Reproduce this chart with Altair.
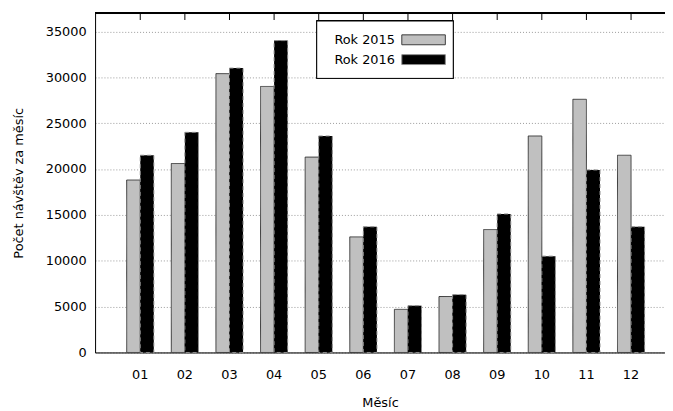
import altair as alt
import pandas as pd

months = ["01", "02", "03", "04", "05", "06", "07", "08", "09", "10", "11", "12"]
rok2015 = [18800, 20600, 30400, 29000, 21300, 12600, 4700, 6100, 13400, 23600, 27600, 21500]
rok2016 = [21500, 24000, 31000, 34000, 23600, 13700, 5100, 6300, 15100, 10500, 19900, 13700]
series = ["Rok 2015", "Rok 2016"]
y_ticks = [0, 5000, 10000, 15000, 20000, 25000, 30000, 35000]
y_max = 37000

rows = []
for i, m in enumerate(months):
    rows.append({"mesic": m, "rok": series[0], "pocet": rok2015[i]})
    rows.append({"mesic": m, "rok": series[1], "pocet": rok2016[i]})
df = pd.DataFrame(rows)
df_months = pd.DataFrame({"mesic": months})
df_series = pd.DataFrame({"rok": series})

FONT = "DejaVu Sans"
W, H = 576, 343

xscale = alt.Scale(domain=months, paddingInner=0.392, paddingOuter=0.5827, align=0.608)
fill_scale = alt.Scale(domain=series, range=["#c0c0c0", "#000000"])
stroke_cond = alt.condition(alt.datum.rok == series[1], alt.value("#8c8c8c"), alt.value("#3c3c3c"))
dash_cond = alt.condition(alt.datum.rok == series[1], alt.value([4, 3]), alt.value([1, 0]))

x_axis = alt.Axis(
    title="Měsíc", labelAngle=0, ticks=False, domain=True, domainColor="black",
    domainWidth=1, labelFontSize=13, labelPadding=16, titleFontSize=13,
    titleFontWeight="normal", titlePadding=16, grid=False,
    labelColor="black", titleColor="black", labelFont=FONT, titleFont=FONT,
)

bars = alt.Chart(df).mark_bar(strokeWidth=1).encode(
    x=alt.X("mesic:N", scale=xscale, sort=months, axis=x_axis),
    xOffset=alt.XOffset("rok:N", scale=alt.Scale(domain=series, paddingInner=0, paddingOuter=0)),
    y=alt.Y(
        "pocet:Q",
        scale=alt.Scale(domain=[0, y_max], nice=False),
        axis=alt.Axis(
            values=y_ticks, title="Počet návštěv za měsíc", grid=True, gridDash=[1, 2],
            gridColor="#9a9a9a", gridWidth=1, ticks=False, domain=True, domainColor="black",
            labelPadding=9, labelFontSize=13, titleFontSize=13, titleFontWeight="normal",
            titlePadding=20, labelColor="black", titleColor="black", labelFont=FONT,
            titleFont=FONT, format="d",
        ),
    ),
    fill=alt.Fill("rok:N", scale=fill_scale, legend=None),
    stroke=stroke_cond,
    strokeDash=dash_cond,
)

# top border and mirrored x tics (gnuplot style)
top_border = alt.Chart(df_months).mark_rule(color="black", strokeWidth=1).encode(
    y=alt.datum(y_max),
)
top_ticks = alt.Chart(df_months).mark_rule(color="black", strokeWidth=1).encode(
    x=alt.X("mesic:N", sort=months, axis=x_axis),
    y=alt.value(0),
    y2=alt.value(7),
)

# legend box (gnuplot style: text left, swatch right)
legend_frame = alt.Chart(df_months).mark_rect(fill="white", stroke="black", strokeWidth=1).encode(
    x=alt.value(224), x2=alt.value(362), y=alt.value(8), y2=alt.value(66),
)
legend_layers = []
for i, s in enumerate(series):
    base = alt.Chart(df_series).transform_filter(alt.datum.rok == s)
    yc = 27 + 20 * i
    legend_layers.append(
        base.mark_text(align="right", baseline="middle", fontSize=13, font=FONT, color="black").encode(
            x=alt.value(303), y=alt.value(yc), text="rok:N",
        )
    )
    legend_layers.append(
        base.mark_rect(strokeWidth=1).encode(
            x=alt.value(310), x2=alt.value(354), y=alt.value(yc - 5), y2=alt.value(yc + 5),
            fill=alt.Fill("rok:N", scale=fill_scale, legend=None),
            stroke=stroke_cond,
            strokeDash=dash_cond,
        )
    )

chart = alt.layer(bars, top_border, top_ticks, legend_frame, *legend_layers).properties(
    width=W, height=H,
    autosize=alt.AutoSizeParams(type="none"),
    padding={"left": 88, "top": 3, "right": 0, "bottom": 56},
).configure_view(stroke=None).configure(font=FONT)

chart.save("out.html", embed_options={"renderer": "svg", "actions": False})
